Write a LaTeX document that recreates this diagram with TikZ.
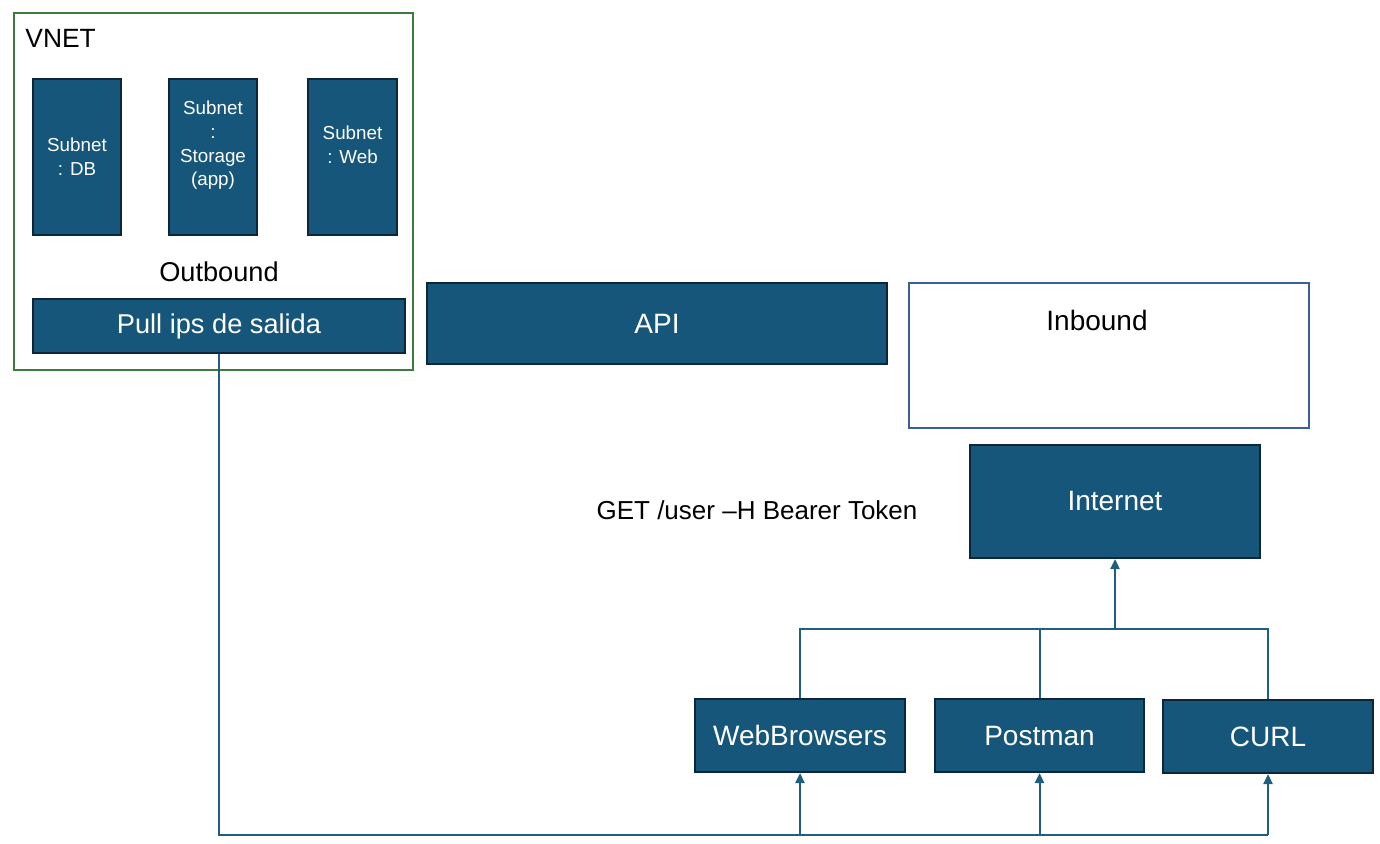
\documentclass[tikz,border=0pt]{standalone}
\usepackage{fontspec}
\setmainfont{Liberation Sans}
\usetikzlibrary{arrows.meta,calc}
\definecolor{boxfill}{HTML}{16567A}
\definecolor{boxline}{HTML}{0D2638}
\definecolor{conn}{HTML}{1E5F80}
\definecolor{vnetgreen}{HTML}{3F7A3F}
\definecolor{inblue}{HTML}{3B5F99}
\tikzset{
  darkbox/.style={draw=boxline, fill=boxfill, line width=1.1pt, inner sep=0pt, text=white},
  txt/.style={inner sep=0pt, align=center},
  wire/.style={draw=conn, line width=1pt},
  arr/.style={wire, -{Triangle[width=4.6pt,length=5pt]}},
  big/.style={font=\fontsize{14}{17}\selectfont},
  small/.style={font=\fontsize{9.4}{11.8}\selectfont},
}
\begin{document}
\begin{tikzpicture}[x=0.5pt,y=-0.5pt]
\useasboundingbox (0,0) rectangle (1380,844);
% VNET group
\node[draw=vnetgreen, line width=0.75pt, minimum width=199.5pt, minimum height=178.5pt, inner sep=0pt] (vnet) at (213.5,191.5) {};
\node[txt, anchor=west, font=\fontsize{13.2}{16}\selectfont] (vnetlbl) at (25,38) {VNET};
\node[darkbox, minimum width=44pt, minimum height=78pt] (sdb) at (77,157) {};
\node[darkbox, minimum width=44pt, minimum height=78pt] (sst) at (213,157) {};
\node[darkbox, minimum width=44.5pt, minimum height=78pt] (swb) at (352.5,157) {};
\node[txt, small, text=white] (sdbt) at (77,156.5) {Subnet\\: DB};
\node[txt, small, text=white] (sstt) at (213,145.5) {Subnet\\:\\Storage\\(app)};
\node[txt, small, text=white] (swbt) at (352.5,145) {Subnet\\: Web};
\node[txt, font=\fontsize{13.6}{16}\selectfont] (outb) at (219,272) {Outbound};
\node[darkbox, minimum width=186pt, minimum height=27pt, font=\fontsize{13.6}{16}\selectfont] (pull) at (219,326) {Pull ips de salida};
% API
\node[darkbox, big, minimum width=230pt, minimum height=40.5pt] (api) at (657,323.5) {API};
% Inbound
\node[draw=inblue, line width=0.6pt, minimum width=200pt, minimum height=72.5pt, inner sep=0pt] (inb) at (1109,355.5) {};
\node[txt, big] (inbt) at (1097,320) {Inbound};
% Internet
\node[darkbox, big, minimum width=145pt, minimum height=56.5pt] (inet) at (1115,501.5) {Internet};
\node[txt, font=\fontsize{13}{16}\selectfont] (get) at (757,510) {GET /user –H Bearer Token};
% clients
\node[darkbox, big, minimum width=105pt, minimum height=36.5pt] (wb) at (800,735.5) {WebBrowsers};
\node[darkbox, big, minimum width=104.5pt, minimum height=36.5pt] (pm) at (1039.5,735.5) {Postman};
\node[darkbox, big, minimum width=105pt, minimum height=36.5pt] (curl) at (1268,736.5) {CURL};
% top tree
\coordinate (jt) at (1115,629);
\draw[wire] (wb.north) |- (jt) -| (curl.north);
\draw[wire] (pm.north) -- (pm.north |- jt);
\draw[arr] (jt) -- (inet.south);
% bottom bus
\coordinate (jb) at (0,835);
\draw[wire] (pull.south) |- (curl.south |- jb);
\draw[arr] (wb.south |- jb) -- (wb.south);
\draw[arr] (pm.south |- jb) -- (pm.south);
\draw[arr] (curl.south |- jb) -- (curl.south);
\end{tikzpicture}
\end{document}
